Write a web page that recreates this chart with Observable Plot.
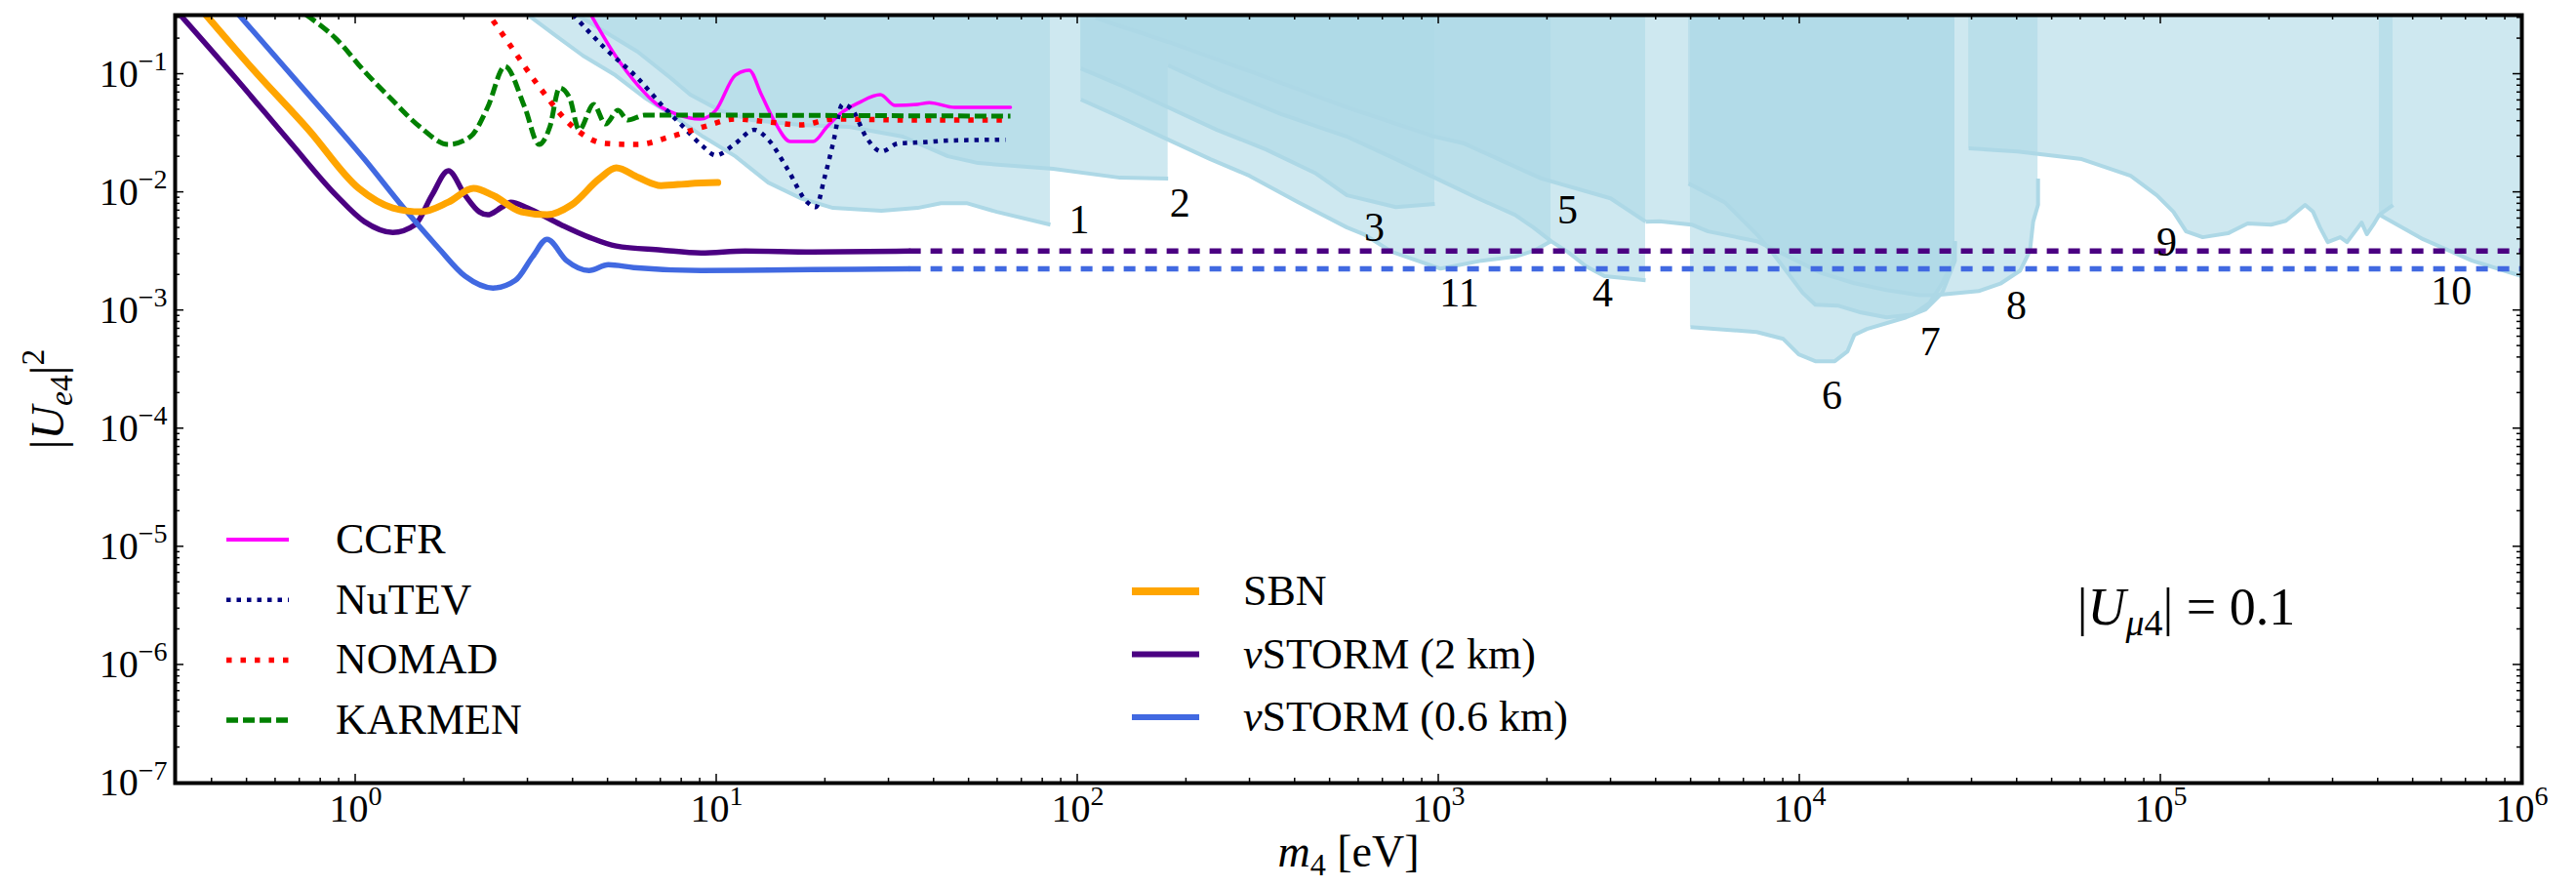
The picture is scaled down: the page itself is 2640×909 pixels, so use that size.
<!DOCTYPE html>
<html><head><meta charset="utf-8">
<script src="https://cdn.jsdelivr.net/npm/d3@7"></script>
<script src="https://cdn.jsdelivr.net/npm/@observablehq/plot@0.6"></script>
<style>html,body{margin:0;padding:0;background:#fff;} svg{display:block}</style>
</head><body><div id="chart"></div>
<script>
const NS = "http://www.w3.org/2000/svg";

// ---------- axes ----------
const xDomain = [0.3162, 1e6];
const yDomain = [1e-7, 0.3162];
const xTicks = [1, 10, 100, 1e3, 1e4, 1e5, 1e6];
const xTickLabels = ["10^{0}", "10^{1}", "10^{2}", "10^{3}", "10^{4}", "10^{5}", "10^{6}"];
const yTicks = [1e-7, 1e-6, 1e-5, 1e-4, 1e-3, 1e-2, 1e-1];
const yTickLabels = ["10^{−7}", "10^{−6}", "10^{−5}", "10^{−4}", "10^{−3}", "10^{−2}", "10^{−1}"];
const xLabel = "*m*_{4} [eV]";
const yLabel = "|*U*_{*e*4}|^{2}";

// ---------- experiment curves [m4 (eV), |Ue4|^2] ----------
const CCFR = [[4.48,0.32],[5.24,0.1436],[6.04,0.0811],[6.84,0.0555],[7.75,0.0458],[9.0,0.0417],[9.94,0.0494],[11.26,0.098],[12.3,0.108],[13.3,0.067],[14.4,0.0409],[16.0,0.0269],[18.5,0.0269],[20.2,0.0358],[21.9,0.0458],[24.8,0.0575],[28.4,0.067],[31.2,0.0544],[36.0,0.0555],[38.8,0.0575],[45.6,0.0524],[65.1,0.0524]];
const NuTEV = [[4.0,0.32],[4.92,0.164],[6.04,0.0927],[7.14,0.0524],[8.09,0.0358],[9.17,0.0244],[9.94,0.0206],[11.26,0.0259],[12.7,0.0338],[13.9,0.0279],[15.7,0.0158],[17.8,0.00826],[18.8,0.0075],[19.95,0.0138],[21.0,0.0259],[22.3,0.0555],[23.8,0.0494],[25.9,0.0296],[28.6,0.0222],[31.8,0.0259],[36.0,0.0264],[45,0.0275],[63.1,0.0279]];
const NOMAD = [[2.40,0.285],[2.64,0.1875],[3.24,0.0766],[4.0,0.0358],[4.92,0.0259],[6.04,0.0254],[7.46,0.0296],[9.17,0.0358],[11.26,0.0417],[13.9,0.0394],[17.1,0.0372],[21.0,0.0417],[36.0,0.0409],[65.1,0.0409]];
const KARMEN = [[0.728,0.32],[0.883,0.199],[1.057,0.106],[1.267,0.0598],[1.507,0.0358],[1.806,0.0254],[2.08,0.0296],[2.32,0.0524],[2.59,0.1165],[2.94,0.0524],[3.22,0.0254],[3.45,0.0358],[3.67,0.0766],[3.91,0.0634],[4.16,0.0338],[4.56,0.0555],[4.92,0.0379],[5.33,0.0494],[5.67,0.0409],[6.31,0.045],[65.1,0.0441]];
const SBN = [[0.384,0.32],[0.517,0.112],[0.741,0.0338],[1.02,0.0108],[1.267,0.00738],[1.517,0.00684],[1.806,0.00826],[2.12,0.0108],[2.40,0.00944],[2.88,0.00684],[3.39,0.00646],[3.96,0.00782],[4.74,0.0131],[5.27,0.0161],[6.08,0.0133],[7.01,0.0114],[8.40,0.01186],[10.07,0.0121]];
const STORM2 = [[0.326,0.32],[0.465,0.0927],[0.663,0.0259],[0.883,0.00944],[1.057,0.00565],[1.267,0.00458],[1.462,0.00533],[1.626,0.00944],[1.806,0.0152],[2.01,0.00944],[2.20,0.00684],[2.32,0.00646],[2.54,0.0075],[2.69,0.00826],[2.99,0.00738],[3.70,0.00533],[4.43,0.00417],[5.27,0.00351],[7.01,0.00325],[9.05,0.00307],[12.0,0.00319],[18.4,0.00313],[34.1,0.00318]];
const STORM2_ext = [[34.1,0.00318],[1e6,0.00318]];
const STORM06 = [[0.474,0.32],[0.741,0.067],[1.057,0.0191],[1.358,0.00738],[1.687,0.00344],[2.01,0.00195],[2.40,0.00155],[2.77,0.0018],[3.09,0.00285],[3.39,0.00401],[3.84,0.00264],[4.43,0.00218],[5.01,0.00244],[5.89,0.00231],[9.05,0.00218],[18.4,0.00222],[34.1,0.00225]];
const STORM06_ext = [[34.1,0.00225],[1e6,0.00225]];

// ---------- excluded regions (lower boundary, filled upward) ----------
const R1 = [[2.99,0.32],[3.60,0.210],[4.26,0.1436],[5.24,0.0981],[6.31,0.0634],[7.46,0.0458],[9.17,0.0296],[11.26,0.0202],[13.9,0.0121],[17.1,0.0089],[21.0,0.00738],[28.6,0.00697],[36.0,0.00738],[41.8,0.0081],[49.2,0.0081],[59.7,0.00684],[84.0,0.00533]];
const R2 = [[4.08,0.32],[4.92,0.2265],[6.04,0.155],[7.46,0.0927],[8.45,0.067],[10.2,0.0494],[12.5,0.0409],[17.1,0.0372],[23.3,0.0358],[32.8,0.0296],[43.7,0.0202],[53.0,0.0177],[85.5,0.0158],[131,0.0133],[178,0.0131]];
const R3 = [[102,0.112],[131,0.0811],[178,0.0524],[243,0.0338],[332,0.0231],[454,0.0146],[557,0.00944],[761,0.0075],[975,0.00796]];
const R11 = [[102,0.061],[131,0.0433],[178,0.0279],[233,0.0191],[299,0.0138],[408,0.00826],[557,0.00504],[620,0.00442],[742,0.00313],[1012,0.00226],[1315,0.00264],[1625,0.00285],[1829,0.00319],[2046,0.00386]];
const R4 = [[178,0.1187],[243,0.0766],[367,0.0458],[557,0.0296],[761,0.0191],[975,0.0133],[1283,0.0089],[1625,0.00646],[1829,0.00504],[2046,0.00386],[2276,0.00313],[2560,0.00236],[2879,0.00195],[3741,0.0018]];
const R5 = [[112,0.30],[178,0.1875],[299,0.106],[557,0.0524],[975,0.0296],[1176,0.0259],[1922,0.0131],[2990,0.0089],[3741,0.00565]];
const R8 = [[3741,0.00565],[4080,0.0057],[5012,0.00533],[5570,0.00467],[7600,0.00386],[9340,0.00285],[11530,0.00206],[14160,0.0017],[17400,0.00149],[21500,0.00135],[23700,0.00135],[31300,0.00146],[36100,0.0017],[40800,0.00218],[43400,0.00319],[44300,0.00565],[45700,0.00782],[45701,0.0131]];
const R6 = [[4980,0.000724],[7600,0.000658],[9000,0.000575],[9930,0.000425],[11040,0.000372],[12500,0.000372],[13550,0.00045],[14160,0.000621],[15350,0.000697],[19700,0.000875],[22300,0.00102],[24800,0.00141],[26900,0.00264],[26901,0.00386]];
const R7 = [[4920,0.01186],[6190,0.00826],[7600,0.00442],[8450,0.00301],[10190,0.00141],[11040,0.00112],[12740,0.0011],[14790,0.00096],[17400,0.000875],[20600,0.000927],[22900,0.00116],[24800,0.0017],[26700,0.00264],[26901,0.00386]];
const R9 = [[29370,0.02354],[40050,0.0222],[60400,0.0191],[82500,0.0138],[97500,0.00944],[108400,0.00684],[117500,0.00467],[130600,0.00417],[153500,0.0045],[174000,0.00545],[202000,0.00533],[222000,0.00575],[251000,0.00782],[264000,0.00684],[276000,0.00504],[290000,0.00379],[314000,0.00417],[328000,0.00379],[360000,0.00555],[372000,0.00442],[388000,0.00533],[403000,0.00646],[440000,0.00782]];
const R10 = [[403000,0.00646],[533000,0.00401],[728000,0.00264],[1000000,0.00195]];
const regions = [R1, R2, R3, R11, R4, R5, R8, R6, R7, R9, R10];

// ---------- region labels ----------
const labelText = ["1","2","3","11","4","5","6","7","8","9","10"];
const labelMass = [101,192,663,1140,2845,2275,12280,23000,39800,103800,638000];
const labelU    = [0.00587,0.0081,0.00504,0.00141,0.00141,0.0071,0.000191,0.000545,0.0011,0.00379,0.00146];

const noteText = ["|*U*_{*μ*4}| = 0.1"];
const noteMass = [117500];
const noteU = [3.07e-6];

const legendLeftNames = ["CCFR", "NuTEV", "NOMAD", "KARMEN"];
const legendRightNames = ["SBN", "*ν*STORM (2 km)", "*ν*STORM (0.6 km)"];

// ---------- styles ----------
const regionColor = "#ADD8E6";
const S = {
  CCFR:   {stroke: "#FF00FF", strokeWidth: 3.5},
  NuTEV:  {stroke: "#000080", strokeWidth: 4.5, strokeDasharray: "4.5,6", strokeLinecap: "butt"},
  NOMAD:  {stroke: "#FF0000", strokeWidth: 5.5, strokeDasharray: "5.5,9", strokeLinecap: "butt"},
  KARMEN: {stroke: "#008000", strokeWidth: 5, strokeDasharray: "12,5", strokeLinecap: "butt"},
  SBN:    {stroke: "#FFA500", strokeWidth: 7},
  STORM2: {stroke: "#4B0082", strokeWidth: 5.5},
  STORM06:{stroke: "#4169E1", strokeWidth: 5.5}
};
const extDash = "12,10";

const X = d => d[0], Y = d => d[1];
function curve(data, st) {
  return Plot.line(data, {x: X, y: Y, curve: "monotone-x", clip: true, strokeLinejoin: "round", ...st});
}

function mk(tag, attrs) {
  const e = document.createElementNS(NS, tag);
  for (const k in attrs) e.setAttribute(k, attrs[k]);
  return e;
}

// inner ticks on all four sides
function frameTicks(index, scales, values, dims) {
  const {width, height, marginLeft, marginRight, marginTop, marginBottom} = dims;
  const L = marginLeft, R = width - marginRight, T = marginTop, B = height - marginBottom;
  const g = mk("g", {stroke: "black", "stroke-width": 1.5});
  const xMinor = [], yMinor = [];
  for (let e = -1; e <= 5; e++) for (let k = 2; k <= 9; k++) { const v = k * Math.pow(10, e); if (v >= xDomain[0] && v <= xDomain[1]) xMinor.push(v); }
  for (let e = -7; e <= -1; e++) for (let k = 2; k <= 9; k++) { const v = k * Math.pow(10, e); if (v >= yDomain[0] && v <= yDomain[1]) yMinor.push(v); }
  const ln = (x1, y1, x2, y2) => g.append(mk("line", {x1, y1, x2, y2}));
  for (const v of xTicks) { const x = scales.x(v); ln(x, B, x, B - 9); ln(x, T, x, T + 9); }
  for (const v of xMinor) { const x = scales.x(v); ln(x, B, x, B - 5); ln(x, T, x, T + 5); }
  for (const v of yTicks) { const y = scales.y(v); ln(L, y, L + 9, y); ln(R, y, R - 9, y); }
  for (const v of yMinor) { const y = scales.y(v); ln(L, y, L + 5, y); ln(R, y, R - 5, y); }
  return g;
}

function legend(index, scales, values, dims) {
  const g = mk("g", {"text-anchor": "start"});
  const left = [
    {name: legendLeftNames[0], st: S.CCFR, sw: 4},
    {name: legendLeftNames[1], st: S.NuTEV, sw: 4.5},
    {name: legendLeftNames[2], st: S.NOMAD, sw: 5.5},
    {name: legendLeftNames[3], st: S.KARMEN, sw: 5.5}
  ];
  const right = [
    {name: legendRightNames[0], st: S.SBN, sw: 8},
    {name: legendRightNames[1], st: S.STORM2, sw: 6},
    {name: legendRightNames[2], st: S.STORM06, sw: 6}
  ];
  const draw = (items, x0, x1, xt, y0, dy) => items.forEach((it, i) => {
    const y = y0 + i * dy;
    const a = {x1: x0, x2: x1, y1: y, y2: y, stroke: it.st.stroke, "stroke-width": it.sw};
    if (it.st.strokeDasharray) a["stroke-dasharray"] = it.st.strokeDasharray;
    g.append(mk("line", a));
    const t = mk("text", {x: xt, y: y, dy: "0.32em", "font-size": 44, "text-anchor": "start"});
    t.textContent = it.name;
    g.append(t);
  });
  draw(left, 232, 296, 344, 553, 61.7);
  draw(right, 1160, 1229, 1274, 606, 64.5);
  return g;
}

const chart = Plot.plot({
  width: 2640, height: 909,
  marginLeft: 179, marginRight: 56, marginTop: 15, marginBottom: 107,
  style: {fontFamily: "'Liberation Serif', serif", fontSize: "40px", background: "white", color: "black"},
  x: {type: "log", domain: xDomain, axis: null},
  y: {type: "log", domain: yDomain, axis: null},
  marks: [
    ...regions.map(r => Plot.areaY(r, {x: X, y1: Y, y2: () => 1, fill: regionColor, fillOpacity: 0.6, clip: true})),
    ...regions.map(r => Plot.line(r, {x: X, y: Y, stroke: regionColor, strokeWidth: 4, strokeLinecap: "butt", clip: true})),
    curve(CCFR, S.CCFR),
    curve(NuTEV, S.NuTEV),
    curve(NOMAD, S.NOMAD),
    curve(KARMEN, S.KARMEN),
    curve(STORM2, S.STORM2),
    curve(STORM2_ext, {...S.STORM2, strokeDasharray: extDash, strokeLinecap: "butt"}),
    curve(STORM06, S.STORM06),
    curve(STORM06_ext, {...S.STORM06, strokeDasharray: extDash, strokeLinecap: "butt"}),
    curve(SBN, S.SBN),
    Plot.text(labelText, {x: (d, i) => labelMass[i], y: (d, i) => labelU[i], text: d => d, fontSize: 42}),
    Plot.text(noteText, {x: (d, i) => noteMass[i], y: (d, i) => noteU[i], text: d => d, fontSize: 54}),
    Plot.axisX({ticks: xTicks, tickFormat: d => xTickLabels[xTicks.indexOf(d)], tickSize: 0, tickPadding: 11, label: null}),
    Plot.axisY({ticks: yTicks, tickFormat: d => yTickLabels[yTicks.indexOf(d)], tickSize: 0, tickPadding: 8, label: null}),
    Plot.text([xLabel], {frameAnchor: "bottom", textAnchor: "middle", lineAnchor: "middle", dy: 71, text: d => d, fontSize: 46}),
    Plot.text([yLabel], {frameAnchor: "left", textAnchor: "middle", lineAnchor: "middle", dx: -130, rotate: -90, text: d => d, fontSize: 48}),
    frameTicks,
    Plot.frame({stroke: "black", strokeWidth: 4}),
    legend
  ]
});
document.getElementById("chart").append(chart);

// rich text: *italic*, _{sub}, ^{sup}
function rich(el, src, size) {
  const segs = []; let italic = false, mode = "n", buf = "";
  const push = () => { if (buf) segs.push({t: buf, italic, mode}); buf = ""; };
  for (let i = 0; i < src.length; i++) {
    const c = src[i];
    if (c === "*") { push(); italic = !italic; }
    else if ((c === "_" || c === "^") && src[i + 1] === "{") { push(); mode = c === "_" ? "sub" : "sup"; i++; }
    else if (c === "}" && mode !== "n") { push(); mode = "n"; }
    else buf += c;
  }
  push();
  while (el.firstChild) el.removeChild(el.firstChild);
  let off = 0;
  for (const s of segs) {
    const ts = document.createElementNS(NS, "tspan");
    const target = s.mode === "sup" ? -0.42 * size : s.mode === "sub" ? 0.2 * size : 0;
    if (target !== off) ts.setAttribute("dy", (target - off).toFixed(2));
    off = target;
    if (s.mode !== "n") ts.setAttribute("font-size", (0.7 * size).toFixed(1));
    if (s.italic) ts.setAttribute("font-style", "italic");
    ts.textContent = s.t;
    el.appendChild(ts);
  }
}
chart.querySelectorAll("text").forEach(t => {
  const s = t.textContent;
  if (/\^\{|_\{|\*/.test(s)) {
    const size = parseFloat(getComputedStyle(t).fontSize) || 40;
    rich(t, s, size);
  }
});
</script></body></html>
